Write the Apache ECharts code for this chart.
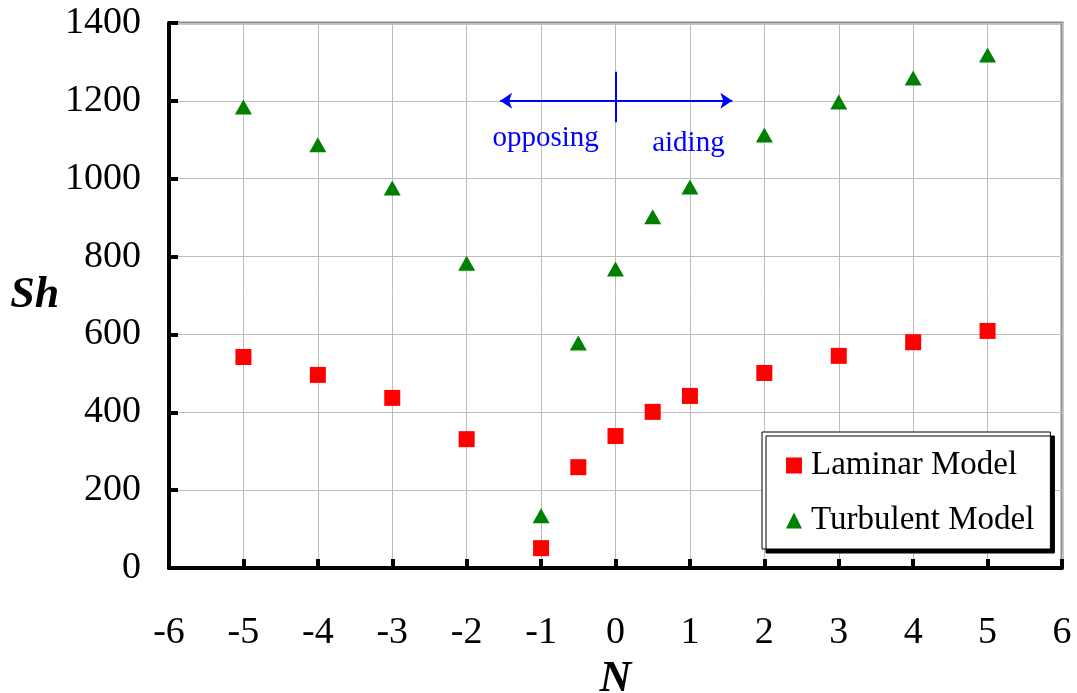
<!DOCTYPE html>
<html>
<head>
<meta charset="utf-8">
<script src="https://cdn.jsdelivr.net/npm/echarts@6/dist/echarts.min.js"></script>
<style>html,body{margin:0;padding:0;background:#fff;}#c{width:1077px;height:693px;}</style>
</head>
<body>
<div id="c"></div>
<script>
const nValues = [-5, -4, -3, -2, -1, -0.5, 0, 0.5, 1, 2, 3, 4, 5];
const laminar = [542, 496, 437, 331, 51, 259, 339, 401, 442, 501, 545, 580, 609];
const turbulent = [1184, 1087, 976, 783, 134, 578, 768, 902, 979, 1112, 1197, 1259, 1318];
const seriesNames = ['Laminar Model', 'Turbulent Model'];
const arrowSpan = [-1.55, 1.57, 1200];
const dividerSpan = [0, 1145, 1275];
const notes = [['opposing', -0.94, 1104], ['aiding', 0.98, 1092]];

const font = 'Liberation Serif, Times New Roman, serif';
const chart = echarts.init(document.getElementById('c'), null, {renderer: 'canvas'});
chart.setOption({
  animation: false,
  backgroundColor: '#fff',
  grid: {left: 169, right: 15, top: 23, bottom: 125, containLabel: false, outerBoundsMode: 'none',
         show: true, borderColor: '#8c8c8c', borderWidth: 3, backgroundColor: 'transparent'},
  xAxis: {
    type: 'value', min: -6, max: 6, interval: 1,
    name: 'N', nameLocation: 'middle', nameGap: 90,
    nameTextStyle: {fontFamily: font, fontSize: 44, fontWeight: 'bold', fontStyle: 'italic', color: '#000'},
    axisLine: {show: true, onZero: false, lineStyle: {color: '#000', width: 4}},
    axisTick: {show: true, inside: true, length: 9, lineStyle: {color: '#000', width: 4}},
    axisLabel: {fontFamily: font, fontSize: 38, color: '#000', margin: 46, formatter: v => String(v)},
    splitLine: {show: true, lineStyle: {color: '#bdbdbd', width: 1}}
  },
  yAxis: {
    type: 'value', min: 0, max: 1400, interval: 200,
    name: 'Sh', nameLocation: 'middle', nameGap: 107, nameRotate: 0,
    nameTextStyle: {fontFamily: font, fontSize: 44, fontWeight: 'bold', fontStyle: 'italic', color: '#000'},
    axisLine: {show: true, onZero: false, lineStyle: {color: '#000', width: 4}},
    axisTick: {show: true, inside: true, length: 9, lineStyle: {color: '#000', width: 4}},
    axisLabel: {fontFamily: font, fontSize: 38, color: '#000', margin: 28, formatter: v => String(v)},
    splitLine: {show: true, lineStyle: {color: '#bdbdbd', width: 1}}
  },
  legend: {
    data: [{name: seriesNames[0], icon: 'rect'}, {name: seriesNames[1], icon: 'triangle'}],
    orient: 'vertical', left: 762, top: 432,
    padding: [17, 16, 12, 24], itemGap: 22, itemWidth: 16, itemHeight: 16,
    backgroundColor: '#fff', borderColor: '#000', borderWidth: 1,
    shadowColor: '#000', shadowBlur: 0, shadowOffsetX: 4, shadowOffsetY: 4,
    textStyle: {fontFamily: font, fontSize: 33, color: '#000', padding: [0, 0, 0, 4]}
  },
  series: [
    {
      name: seriesNames[0], type: 'scatter', symbol: 'rect', symbolSize: 16,
      itemStyle: {color: '#ff0000', opacity: 1},
      data: nValues.map((n, i) => [n, laminar[i]]), z: 5
    },
    {
      name: seriesNames[1], type: 'scatter', symbol: 'triangle', symbolSize: [17, 15],
      itemStyle: {color: '#008000', opacity: 1},
      data: nValues.map((n, i) => [n, turbulent[i]]), z: 5
    },
    {
      name: 'annot', type: 'scatter', data: [], silent: true,
      markLine: {
        silent: true, symbolSize: [12, 12], animation: false,
        lineStyle: {color: '#0000ff', width: 2, type: 'solid'},
        label: {show: false},
        data: [
          [{coord: [arrowSpan[0], arrowSpan[2]], symbol: 'arrow'}, {coord: [arrowSpan[1], arrowSpan[2]], symbol: 'arrow'}],
          [{coord: [dividerSpan[0], dividerSpan[1]], symbol: 'none'}, {coord: [dividerSpan[0], dividerSpan[2]], symbol: 'none'}]
        ]
      },
      markPoint: {
        silent: true, symbol: 'circle', symbolSize: 0,
        label: {show: true, position: 'inside', fontFamily: font, fontSize: 29, color: '#0000ff', formatter: p => p.name},
        data: notes.map(t => ({name: t[0], coord: [t[1], t[2]]}))
      }
    }
  ]
});
</script>
</body>
</html>
